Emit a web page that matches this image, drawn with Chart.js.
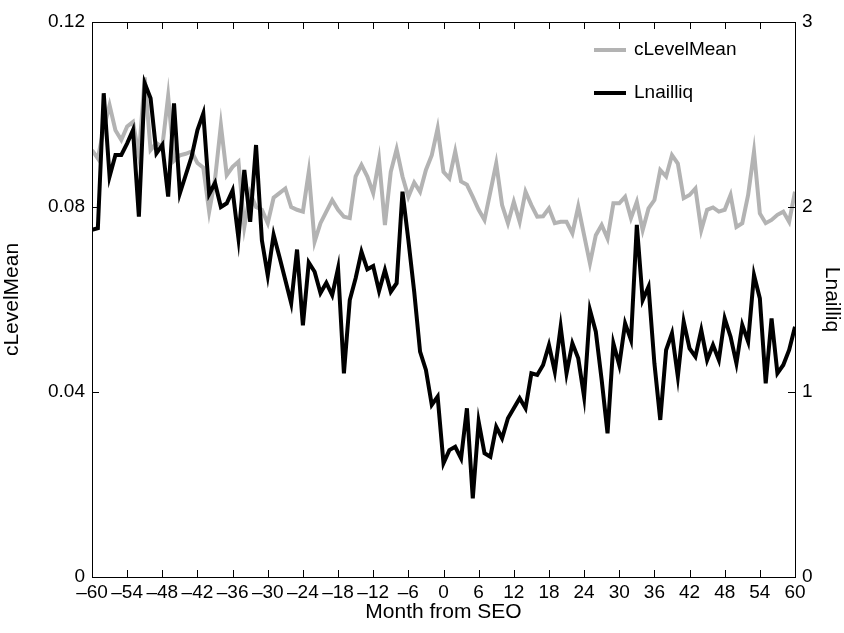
<!DOCTYPE html>
<html>
<head>
<meta charset="utf-8">
<script src="https://cdn.jsdelivr.net/npm/chart.js@4/dist/chart.umd.min.js"></script>
<style>
  html, body { margin: 0; padding: 0; background: #fff; }
</style>
</head>
<body>
<canvas id="seoChart" width="844" height="633"></canvas>
<script>
// months relative to the SEO, -60 .. 60
const months = Array.from({ length: 121 }, (_, i) => i - 60);

// left axis series
const cLevelMean = [
  0.0923, 0.0905, 0.0970, 0.1020, 0.0966, 0.0945, 0.0974, 0.0984, 0.0910, 0.1080,
  0.0923, 0.0938, 0.0930, 0.1040, 0.0900, 0.0912, 0.0915, 0.0920, 0.0895, 0.0885,
  0.0790, 0.0860, 0.0977, 0.0869, 0.0887, 0.0898, 0.0757, 0.0830, 0.0800, 0.0794,
  0.0765, 0.0820, 0.0830, 0.0840, 0.0800, 0.0794, 0.0790, 0.0876, 0.0725, 0.0765,
  0.0790, 0.0815, 0.0794, 0.0779, 0.0776, 0.0866, 0.0891, 0.0866, 0.0830, 0.0902,
  0.0761, 0.0876, 0.0925, 0.0866, 0.0822, 0.0853, 0.0833, 0.0880, 0.0912, 0.0970,
  0.0876, 0.0862, 0.0920, 0.0855, 0.0848, 0.0822, 0.0794, 0.0772, 0.0833, 0.0894,
  0.0804, 0.0765, 0.0811, 0.0768, 0.0833, 0.0804, 0.0779, 0.0780, 0.0797, 0.0765,
  0.0768, 0.0768, 0.0743, 0.0801, 0.0739, 0.0678, 0.0739, 0.0761, 0.0732, 0.0808,
  0.0808, 0.0822, 0.0776, 0.0811, 0.0750, 0.0797, 0.0815, 0.0880, 0.0866, 0.0912,
  0.0894, 0.0819, 0.0826, 0.0840, 0.0750, 0.0794, 0.0799, 0.0790, 0.0794, 0.0826,
  0.0757, 0.0765, 0.0826, 0.0920, 0.0786, 0.0765, 0.0772, 0.0783, 0.0790, 0.0768,
  0.0833
];

// right axis series
const Lnailliq = [
  1.876, 1.885, 2.615, 2.164, 2.281, 2.281, 2.344, 2.416, 1.948, 2.669,
  2.588, 2.290, 2.335, 2.056, 2.560, 2.074, 2.173, 2.272, 2.416, 2.506,
  2.070, 2.130, 2.000, 2.020, 2.090, 1.830, 2.200, 1.920, 2.335, 1.820,
  1.630, 1.850, 1.730, 1.605, 1.480, 1.770, 1.360, 1.700, 1.650, 1.535,
  1.590, 1.524, 1.669, 1.101, 1.497, 1.615, 1.758, 1.663, 1.681, 1.546,
  1.659, 1.542, 1.588, 2.083, 1.822, 1.542, 1.218, 1.119, 0.930, 0.975,
  0.615, 0.686, 0.704, 0.641, 0.912, 0.425, 0.840, 0.669, 0.650, 0.812,
  0.750, 0.858, 0.912, 0.966, 0.912, 1.101, 1.092, 1.146, 1.254, 1.110,
  1.353, 1.101, 1.263, 1.182, 0.975, 1.443, 1.326, 1.065, 0.777, 1.263,
  1.146, 1.371, 1.281, 1.903, 1.497, 1.569, 1.155, 0.849, 1.227, 1.317,
  1.083, 1.380, 1.236, 1.191, 1.335, 1.173, 1.254, 1.173, 1.398, 1.299,
  1.155, 1.362, 1.272, 1.632, 1.506, 1.047, 1.398, 1.101, 1.146, 1.227,
  1.353
];

const xTicks = [-60, -54, -48, -42, -36, -30, -24, -18, -12, -6, 0, 6, 12, 18, 24, 30, 36, 42, 48, 54, 60];
const leftTicks = [0, 0.04, 0.08, 0.12];
const leftTickLabels = ['0', '0.04', '0.08', '0.12'];
const rightTicks = [0, 1, 2, 3];

const FONT = 'Liberation Sans, Arial, Helvetica, sans-serif';
const tickFont = { family: FONT, size: 19 };
const labelFont = { family: FONT, size: 21 };
const noGrid = { display: false, drawTicks: false };

function setTicks(values) {
  return scale => { scale.ticks = values.map(v => ({ value: v })); };
}

// axes box, inward tick marks and the legend
const frame = {
  id: 'frame',
  afterDatasetsDraw(chart) {
    const { ctx, chartArea: a, scales } = chart;
    const len = 7;
    ctx.save();
    ctx.strokeStyle = '#000';
    ctx.lineWidth = 1;
    ctx.beginPath();
    xTicks.forEach(v => {
      const x = Math.round(scales.x.getPixelForValue(v)) + 0.5;
      ctx.moveTo(x, a.bottom); ctx.lineTo(x, a.bottom - len);
      ctx.moveTo(x, a.top); ctx.lineTo(x, a.top + len);
    });
    leftTicks.forEach(v => {
      const y = Math.round(scales.y.getPixelForValue(v)) + 0.5;
      ctx.moveTo(a.left, y); ctx.lineTo(a.left + len, y);
    });
    rightTicks.forEach(v => {
      const y = Math.round(scales.y1.getPixelForValue(v)) + 0.5;
      ctx.moveTo(a.right, y); ctx.lineTo(a.right - len, y);
    });
    ctx.stroke();
    ctx.strokeRect(Math.round(a.left) + 0.5, Math.round(a.top) + 0.5,
                   Math.round(a.right - a.left), Math.round(a.bottom - a.top));

    // legend, top right inside the axes
    ctx.font = '19px ' + FONT;
    ctx.textBaseline = 'middle';
    ctx.fillStyle = '#000';
    const rows = [28, 71];
    chart.data.datasets.forEach((ds, i) => {
      const y = a.top + rows[i];
      ctx.strokeStyle = ds.borderColor;
      ctx.lineWidth = ds.borderWidth;
      ctx.beginPath();
      ctx.moveTo(594, y); ctx.lineTo(626, y);
      ctx.stroke();
      ctx.fillText(ds.label, 634, y);
    });
    ctx.restore();
  }
};

new Chart(document.getElementById('seoChart'), {
  type: 'line',
  data: {
    datasets: [
      {
        label: 'cLevelMean',
        data: months.map((m, i) => ({ x: m, y: cLevelMean[i] })),
        borderColor: '#b3b3b3',
        borderWidth: 4,
        pointRadius: 0,
        yAxisID: 'y',
        order: 2
      },
      {
        label: 'Lnailliq',
        data: months.map((m, i) => ({ x: m, y: Lnailliq[i] })),
        borderColor: '#000000',
        borderWidth: 4,
        pointRadius: 0,
        yAxisID: 'y1',
        order: 1
      }
    ]
  },
  options: {
    responsive: false,
    animation: false,
    layout: { padding: { top: 22, left: 0, right: 0, bottom: 0 } },
    plugins: { legend: { display: false }, tooltip: { enabled: false } },
    scales: {
      x: {
        type: 'linear',
        min: -60,
        max: 60,
        afterBuildTicks: setTicks(xTicks),
        afterFit: s => { s.height = 56; },
        grid: noGrid,
        border: { display: false },
        ticks: {
          autoSkip: false, maxRotation: 0, minRotation: 0, padding: 4,
          color: '#000', font: tickFont,
          callback: v => (v < 0 ? '\u2013' + Math.abs(v) : String(v))
        },
        title: { display: true, text: 'Month from SEO', color: '#000', font: labelFont, padding: { top: 0, bottom: 8 } }
      },
      y: {
        position: 'left',
        min: 0,
        max: 0.12,
        afterBuildTicks: setTicks(leftTicks),
        afterFit: s => { s.width = 92; },
        grid: noGrid,
        border: { display: false },
        ticks: {
          padding: 7, color: '#000', font: tickFont,
          callback: (v, i) => leftTickLabels[i]
        },
        title: { display: true, text: 'cLevelMean', color: '#000', font: labelFont, padding: { top: 0, bottom: 0 } }
      },
      y1: {
        position: 'right',
        min: 0,
        max: 3,
        afterBuildTicks: setTicks(rightTicks),
        afterFit: s => { s.width = 49; },
        grid: noGrid,
        border: { display: false },
        ticks: { padding: 7, color: '#000', font: tickFont, callback: v => String(v) },
        title: { display: true, text: 'Lnailliq', color: '#000', font: labelFont, padding: { top: 0, bottom: 0 } }
      }
    }
  },
  plugins: [frame]
});
</script>
</body>
</html>
